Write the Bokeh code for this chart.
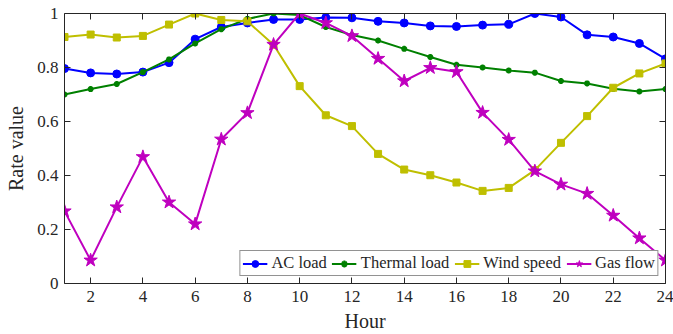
from bokeh.plotting import figure
from bokeh.models import LinearAxis, FixedTicker, Legend, LegendItem, Range1d
from bokeh.embed import file_html
from bokeh.resources import INLINE

hours = list(range(1, 25))
ac_load = [0.796, 0.780, 0.776, 0.783, 0.818, 0.905, 0.950, 0.965, 0.978, 0.978, 0.985, 0.984,
           0.971, 0.965, 0.954, 0.952, 0.957, 0.960, 1.000, 0.987, 0.921, 0.913, 0.889, 0.832]
thermal_load = [0.700, 0.720, 0.739, 0.783, 0.830, 0.889, 0.942, 0.980, 1.000, 0.994, 0.950, 0.920,
                0.900, 0.869, 0.839, 0.810, 0.800, 0.789, 0.781, 0.750, 0.741, 0.721, 0.711, 0.720]
wind_speed = [0.913, 0.922, 0.911, 0.917, 0.959, 1.000, 0.976, 0.971, 0.884, 0.731, 0.623, 0.583,
              0.480, 0.422, 0.401, 0.374, 0.343, 0.354, 0.420, 0.521, 0.620, 0.725, 0.778, 0.815]
gas_flow = [0.268, 0.086, 0.283, 0.469, 0.301, 0.220, 0.534, 0.632, 0.885, 1.000, 0.965, 0.917,
            0.833, 0.750, 0.799, 0.784, 0.633, 0.533, 0.416, 0.367, 0.333, 0.252, 0.168, 0.086]

x_ticks = [2, 4, 6, 8, 10, 12, 14, 16, 18, 20, 22, 24]
y_ticks = [0, 0.2, 0.4, 0.6, 0.8, 1.0]
y_tick_labels = {0: "0", 0.2: "0.2", 0.4: "0.4", 0.6: "0.6", 0.8: "0.8", 1.0: "1"}

FONT = "Liberation Serif"
TXT = "#262626"

p = figure(width=673, height=334, x_range=Range1d(1, 24), y_range=Range1d(0, 1),
           output_backend="svg", toolbar_location=None,
           min_border_left=64, min_border_right=8, min_border_top=13, min_border_bottom=51)
p.grid.visible = False
p.outline_line_color = None
p.background_fill_color = "white"
p.border_fill_color = "white"

def style_axis(ax, ticks):
    ax.ticker = FixedTicker(ticks=ticks)
    ax.major_tick_in = 6
    ax.major_tick_out = 0
    ax.minor_tick_line_color = None
    ax.axis_line_color = TXT
    ax.major_tick_line_color = TXT
    ax.major_label_text_font = FONT
    ax.major_label_text_font_style = "normal"
    ax.major_label_text_color = TXT
    ax.major_label_text_font_size = "17px"
    ax.axis_label_text_font = FONT
    ax.axis_label_text_font_style = "normal"
    ax.axis_label_text_color = TXT
    ax.axis_label_text_font_size = "20px"

xa = p.xaxis[0]
style_axis(xa, x_ticks)
xa.axis_label = "Hour"
xa.major_label_standoff = 7
xa.axis_label_standoff = 5

ya = p.yaxis[0]
style_axis(ya, y_ticks)
ya.major_label_overrides = y_tick_labels
ya.axis_label = "Rate value"
ya.major_label_standoff = 6
ya.axis_label_standoff = 7

top = LinearAxis()
style_axis(top, x_ticks)
top.major_label_overrides = {t: "" for t in x_ticks}
top.major_label_standoff = 0
p.add_layout(top, "above")

right = LinearAxis()
style_axis(right, y_ticks)
right.major_label_overrides = {t: "" for t in y_ticks}
right.major_label_standoff = 0
p.add_layout(right, "right")

series = [
    ("AC load", ac_load, "#0000FF", "circle", 8),
    ("Thermal load", thermal_load, "#008000", "asterisk", 6),
    ("Wind speed", wind_speed, "#BFBF00", "square", 7),
    ("Gas flow", gas_flow, "#BF00BF", "star", 14),
]

items = []
for name, ys, col, mk, sz in series:
    r1 = p.line(hours, ys, line_color=col, line_width=2)
    r2 = p.scatter(hours, ys, marker=mk, size=sz, line_color=col, fill_color=col,
                   line_width=2 if mk == "asterisk" else 1)
    items.append(LegendItem(label=name, renderers=[r1, r2]))

leg = Legend(items=items, orientation="horizontal", location="bottom_right")
leg.label_text_font = FONT
leg.label_text_font_style = "normal"
leg.label_text_font_size = "16.5px"
leg.label_text_color = TXT
leg.glyph_width = 25
leg.glyph_height = 17
leg.label_height = 17
leg.label_standoff = 4
leg.spacing = 5
leg.padding = 2
leg.margin = 7
leg.border_line_color = TXT
leg.border_line_width = 1
leg.background_fill_color = "white"
leg.background_fill_alpha = 1
p.add_layout(leg, "center")

open("out.html", "w").write(file_html(p, INLINE))
